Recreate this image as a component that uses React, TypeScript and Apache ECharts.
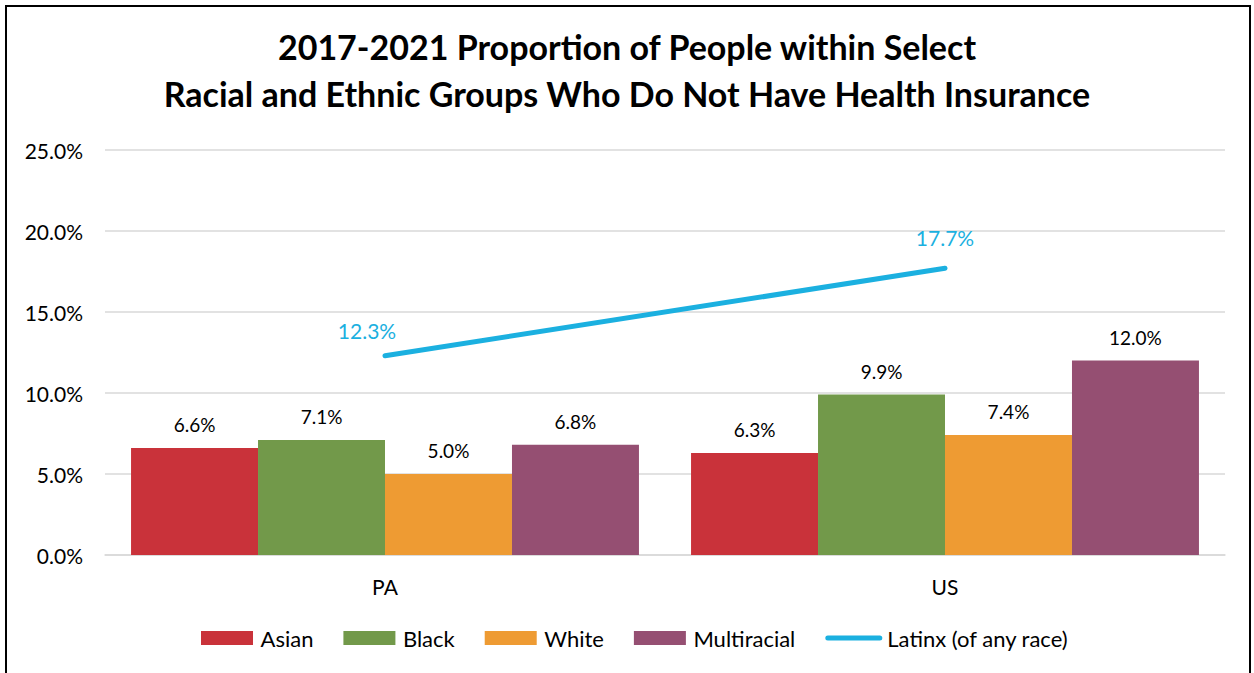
import React, { useEffect, useRef } from "react";
import * as echarts from "echarts";

const categories = ["PA", "US"];
const asian = [6.6, 6.3];
const black = [7.1, 9.9];
const white = [5.0, 7.4];
const multiracial = [6.8, 12.0];
const latinx = [12.3, 17.7];
const titleLines = [
  "2017-2021 Proportion of People within Select",
  "Racial and Ethnic Groups Who Do Not Have Health Insurance",
];

const FONT = "Lato, 'Open Sans', sans-serif";
const RECT_ICON = "path://M0,0 L52,0 L52,14 L0,14 Z";
const LINE_ICON = "path://M2.5,0 L54.5,0 A2.5,2.5 0 0 1 54.5,5 L2.5,5 A2.5,2.5 0 0 1 2.5,0 Z";

export default function App() {
  const ref = useRef<HTMLDivElement>(null);
  useEffect(() => {
    const chart = echarts.init(ref.current!, null, { renderer: "svg" });
    const barLabel = {
      show: true,
      position: "top",
      distance: 14,
      color: "#000",
      fontSize: 19,
      fontFamily: FONT,
      formatter: (p: any) => p.value.toFixed(1) + "%",
    };
    const bar = (name: string, data: number[], color: string) => ({
      name,
      type: "bar",
      data,
      itemStyle: { color },
      barGap: "0%",
      barCategoryGap: "9.3%",
      label: barLabel,
    });
    chart.setOption({
      animation: false,
      graphic: [
        {
          type: "rect",
          shape: { x: 6, y: 6, width: 1244, height: 680 },
          style: { fill: "none", stroke: "#000", lineWidth: 2 },
          silent: true,
        },
      ],
      title: {
        text: titleLines.join("\n"),
        left: "center",
        top: 18,
        textStyle: {
          fontFamily: FONT,
          fontWeight: "bold",
          fontSize: 34,
          lineHeight: 47,
          color: "#000",
        },
      },
      legend: {
        bottom: 19,
        left: 196,
        itemWidth: 57,
        itemHeight: 14,
        itemGap: 30,
        symbolKeepAspect: true,
        textStyle: { fontFamily: FONT, fontSize: 22, color: "#000" },
        data: [
          { name: "Asian", icon: RECT_ICON },
          { name: "Black", icon: RECT_ICON },
          { name: "White", icon: RECT_ICON },
          { name: "Multiracial", icon: RECT_ICON },
          { name: "Latinx (of any race)", icon: LINE_ICON },
        ],
      },
      grid: { left: 105, right: 29, top: 150, bottom: 118 },
      xAxis: {
        type: "category",
        data: categories,
        axisTick: { show: false },
        axisLine: { lineStyle: { color: "#d9d9d9", width: 1.5 } },
        axisLabel: { fontFamily: FONT, fontSize: 21, color: "#000", margin: 21 },
      },
      yAxis: {
        type: "value",
        min: 0,
        max: 25,
        interval: 5,
        axisLabel: {
          fontFamily: FONT,
          fontSize: 21,
          color: "#000",
          margin: 22,
          formatter: (v: number) => v.toFixed(1) + "%",
        },
        splitLine: { lineStyle: { color: "#d9d9d9", width: 1.5 } },
        axisLine: { show: false },
        axisTick: { show: false },
      },
      series: [
        bar("Asian", asian, "#C9323A"),
        bar("Black", black, "#72994A"),
        bar("White", white, "#EE9B33"),
        bar("Multiracial", multiracial, "#954F72"),
        {
          name: "Latinx (of any race)",
          type: "line",
          data: latinx.map((v, i) => ({
            value: v,
            label: i === 0 ? { offset: [-18, 5] } : {},
          })),
          symbol: "circle",
          symbolSize: 0.1,
          showSymbol: true,
          lineStyle: { color: "#1BB0E0", width: 5, cap: "round" },
          itemStyle: { color: "#1BB0E0" },
          z: 5,
          label: {
            show: true,
            position: "top",
            distance: 20,
            color: "#1BB0E0",
            fontSize: 21,
            fontFamily: FONT,
            formatter: (p: any) => p.value.toFixed(1) + "%",
          },
        },
      ],
    });
    return () => chart.dispose();
  }, []);
  return (
    <div
      ref={ref}
      style={{ position: "fixed", left: 0, top: 0, width: 1254, height: 673, background: "#fff" }}
    />
  );
}
